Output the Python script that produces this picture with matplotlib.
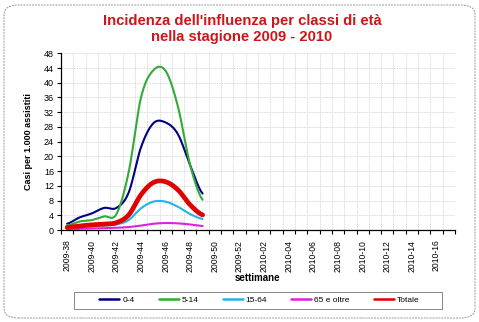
import numpy as np
import matplotlib.pyplot as plt
from matplotlib.patches import FancyBboxPatch, Rectangle

plt.rcParams['font.family'] = ['Liberation Sans', 'DejaVu Sans']

# settimane della stagione 2009-2010
weeks = ['2009-%02d' % w for w in range(38, 53)] + ['2010-%02d' % w for w in range(1, 18)]

# casi per 1.000 assistiti (settimane 2009-38 .. 2009-49)
eta_0_4 = [1.7, 3.4, 4.5, 6.0, 6.0, 10.2, 22.5, 29.0, 29.2, 26.0, 17.5, 9.9]
eta_5_14 = [1.2, 2.3, 2.7, 3.7, 4.3, 15.8, 36.0, 43.4, 43.2, 33.5, 17.5, 8.2]
eta_15_64 = [0.6, 0.8, 1.0, 1.2, 1.5, 2.7, 5.9, 7.7, 7.7, 6.3, 4.3, 3.0]
eta_65 = [0.2, 0.3, 0.4, 0.5, 0.6, 0.8, 1.2, 1.7, 1.9, 1.8, 1.5, 1.1]
totale = [0.7, 1.1, 1.4, 1.6, 2.0, 4.1, 9.6, 12.9, 13.1, 10.9, 6.8, 4.1]

series = [
    ('0-4', eta_0_4, '#000080', 1.5),
    ('5-14', eta_5_14, '#33aa33', 1.5),
    ('15-64', eta_15_64, '#22b4e6', 1.5),
    ('65 e oltre', eta_65, '#e020e0', 1.5),
    ('Totale', totale, '#e00000', 3.4),
]


def smooth(y, n=20):
    # curva tipo Catmull-Rom passante per i punti
    y = np.asarray(y, float)
    x = np.arange(len(y), dtype=float)
    px = np.concatenate([[2 * x[0] - x[1]], x, [2 * x[-1] - x[-2]]])
    py = np.concatenate([[y[0]], y, [y[-1]]])
    xs, ys = [], []
    t = np.linspace(0, 1, n, endpoint=False)
    for i in range(1, len(px) - 2):
        for p, out in ((px, xs), (py, ys)):
            p0, p1, p2, p3 = p[i - 1], p[i], p[i + 1], p[i + 2]
            out.extend(0.5 * (2 * p1 + (-p0 + p2) * t
                              + (2 * p0 - 5 * p1 + 4 * p2 - p3) * t ** 2
                              + (-p0 + 3 * p1 - 3 * p2 + p3) * t ** 3))
    xs.append(x[-1])
    ys.append(y[-1])
    return np.array(xs), np.array(ys)


W, H = 479, 322
fig = plt.figure(figsize=(W / 100, H / 100), dpi=100)
fig.patch.set_facecolor('white')

# cornice tratteggiata
frame = FancyBboxPatch((4 / W, 4 / H), 471 / W, 313 / H,
                       boxstyle='round,pad=0,rounding_size=0.03',
                       transform=fig.transFigure, fill=False,
                       edgecolor='#999999', linestyle=(0, (2, 1)), linewidth=0.7)
fig.patches.append(frame)

ax = fig.add_axes([61 / W, 1 - 230 / H, 394 / W, 176.7 / H])

for name, vals, col, lw in series:
    sx, sy = smooth(vals)
    ax.plot(sx, sy, color=col, lw=lw, label=name, solid_capstyle='round', zorder=3)

n = len(weeks)
ax.set_xlim(-0.5, n - 0.5)
ax.set_ylim(0, 48)
ax.set_yticks(np.arange(0, 49, 4))
ax.set_xticks(np.arange(n + 1) - 0.5)
ax.set_xticklabels([])
ax.set_xticks(np.arange(0, n, 2), minor=True)
ax.set_xticklabels(weeks[::2], minor=True, rotation=90, fontsize=6.2)
ax.tick_params(axis='x', which='minor', length=0, pad=7)
ax.tick_params(axis='x', which='major', length=3, width=0.8, direction='out')
ax.tick_params(axis='y', length=3, width=0.8, labelsize=6.5, pad=2)

ax.grid(True, which='major', color='#d9d9d9', lw=0.6, linestyle=(0, (2, 1)))
ax.set_axisbelow(True)
for s in ['top', 'right']:
    ax.spines[s].set_visible(False)
ax.spines['left'].set_linewidth(0.9)
ax.spines['bottom'].set_linewidth(0.9)

ax.set_ylabel('Casi per 1.000 assistiti', fontsize=6.5, fontweight='bold', labelpad=8)
ax.set_xlabel('settimane', fontsize=7, fontweight='bold', labelpad=1)

fig.text(0.505, 0.935, "Incidenza dell'influenza per classi di età",
         ha='center', va='center', color='#d01418', fontsize=10.6, fontweight='bold')
fig.text(0.505, 0.884, 'nella stagione 2009 - 2010',
         ha='center', va='center', color='#d01418', fontsize=10.6, fontweight='bold')

leg = fig.legend(loc='center', bbox_to_anchor=(259.5 / W, 1 - 300.5 / H), ncol=5,
                 fontsize=6, frameon=False, handlelength=2.4,
                 handletextpad=0.36, columnspacing=2.9, borderpad=0.2)
for h in leg.get_lines():
    h.set_linewidth(1.8)
fig.patches.append(Rectangle((74 / W, 1 - 309 / H), 368 / W, 17 / H,
                             transform=fig.transFigure, fill=False,
                             edgecolor='#888888', linewidth=0.7))

fig.savefig('out.png', dpi=100, facecolor='white')
